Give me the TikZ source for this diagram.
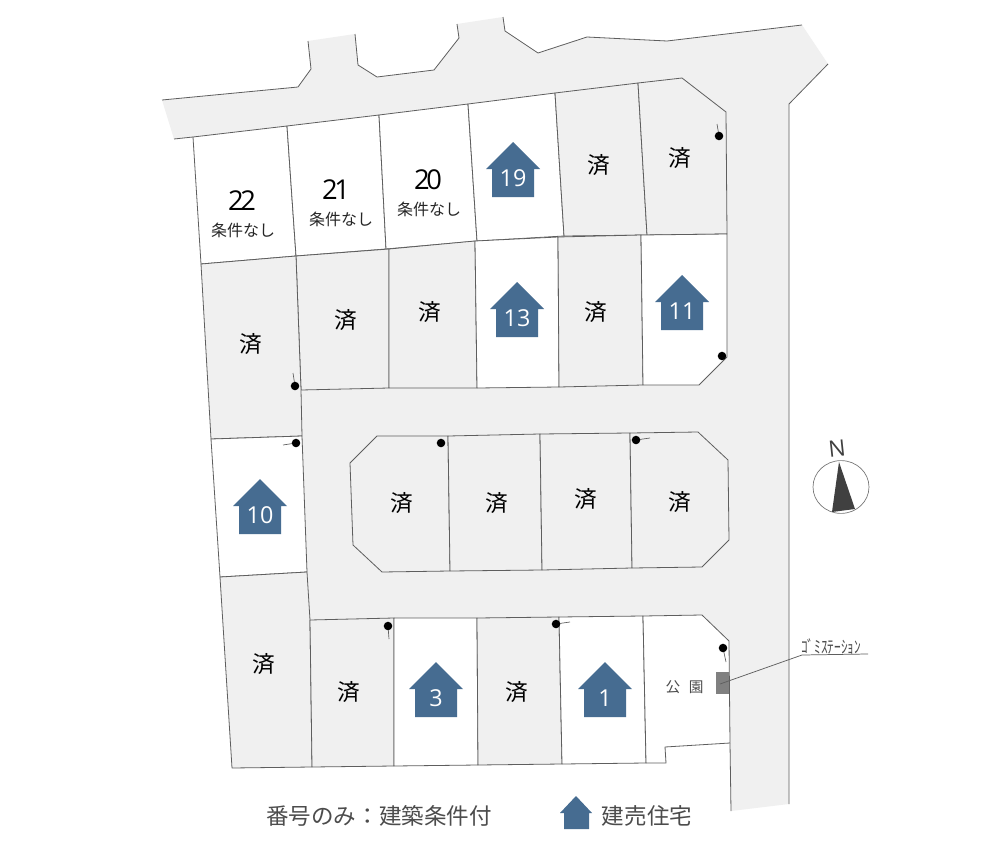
\documentclass[tikz,border=0pt]{standalone}
\usepackage{fontspec}
\setmainfont{Noto Sans CJK JP}
\newfontfamily\numfont{Open Sans}
\newfontfamily\tightnum[LetterSpace=-12]{Open Sans}
\definecolor{plotgrey}{HTML}{F0F0F0}
\definecolor{linegrey}{HTML}{5E5E5E}
\definecolor{houseblue}{HTML}{466C91}
\newcommand{\fs}[1]{\fontsize{#1}{#1}\selectfont}
\tikzset{
  soldlot/.style={fill=plotgrey,draw=linegrey,line width=0.6pt,line join=round},
  openlot/.style={fill=white,draw=linegrey,line width=0.6pt,line join=round},
  edge line/.style={draw=linegrey,line width=0.6pt,line join=round},
  sold/.style={inner sep=0pt,text=black,font=\fs{17}},
  nocond/.style={inner sep=0pt,text=black!85,font=\fs{12}},
  lotnum/.style={inner sep=0pt,text=black,font=\tightnum\fs{20.5}},
  housenum/.style={inner sep=0pt,text=white,font=\numfont\fs{17.5}},
  legendtext/.style={inner sep=0pt,text=black!70,font=\fs{16.9}},
  pin/.style={fill=black,draw=none},
  pintick/.style={draw=linegrey,line width=0.5pt}
}
\newcommand{\housemark}[3]{%
  \fill[houseblue] (#1,#2) -- ++(27,27) -- ++(-6,0) -- ++(0,28) -- ++(-42,0) -- ++(0,-28) -- ++(-6,0) -- cycle;
  \node[housenum] (h#3) at (#1,#2+36) {#3};
}
\newcommand{\pinmark}[4]{%
  \draw[pintick] (#1,#2) -- (#3,#4);
  \fill[pin] (#1,#2) circle (3.2pt);
}
\begin{document}
\begin{tikzpicture}[x=0.75pt,y=-0.75pt]
\useasboundingbox (0,0) rectangle (1000,853);
\fill[white] (0,0) rectangle (1000,853);
% road surface
\fill[plotgrey] (162,100) -- (298,87) -- (311,69) -- (308,41) -- (355,34) -- (358,65) -- (377,77) -- (434,70) -- (459,38) -- (457,24) -- (503,17) -- (505,31) -- (538,53) -- (587,37) -- (667,41) -- (802,25) -- (828,64) -- (789,104) -- (789,804) -- (731,811) -- (730,743) -- (300,700) -- (232,700) -- (193,137) -- (174,139) -- cycle;
\draw[edge line] (162,100) -- (298,87) -- (311,69) -- (308,41);
\draw[edge line] (355,34) -- (358,65) -- (377,77) -- (434,70) -- (459,38) -- (457,24);
\draw[edge line] (503,17) -- (505,31) -- (538,53) -- (587,37) -- (667,41) -- (802,25);
\draw[edge line] (828,64) -- (789,104) -- (789,804);
\draw[edge line] (174,139) -- (193,137);
\draw[edge line] (730,743) -- (731,811);
% north row
\draw[openlot] (193,137) -- (287,126) -- (296,256) -- (201,264) -- cycle;
\draw[openlot] (287,126) -- (379,115) -- (386,249) -- (296,256) -- cycle;
\draw[openlot] (379,115) -- (468,104) -- (477,241) -- (386,249) -- cycle;
\draw[openlot] (468,104) -- (555,93) -- (564,236) -- (477,241) -- cycle;
\draw[soldlot] (555,93) -- (638,83) -- (647,235) -- (564,236) -- cycle;
\draw[soldlot] (638,83) -- (682,78) -- (726,112) -- (727,234) -- (647,235) -- cycle;
% second row
\draw[soldlot] (296,256) -- (389,249) -- (389,388) -- (301,390) -- cycle;
\draw[soldlot] (389,249) -- (475,241) -- (477,388) -- (389,388) -- cycle;
\draw[openlot] (475,241) -- (558,237) -- (559,387) -- (477,388) -- cycle;
\draw[soldlot] (558,237) -- (641,235) -- (643,385) -- (559,387) -- cycle;
\draw[openlot] (641,235) -- (727,234) -- (727,357) -- (699,385) -- (643,385) -- cycle;
% west column
\draw[soldlot] (201,264) -- (296,256) -- (301,390) -- (302,436) -- (211,439) -- cycle;
\draw[openlot] (211,439) -- (302,436) -- (307,572) -- (220,577) -- cycle;
\draw[soldlot] (220,577) -- (307,572) -- (310,620) -- (312,767) -- (232,768) -- cycle;
% central block
\draw[soldlot] (377,436) -- (448,436) -- (450,571) -- (382,572) -- (353,545) -- (350,463) -- cycle;
\draw[soldlot] (448,436) -- (540,434) -- (542,570) -- (450,571) -- cycle;
\draw[soldlot] (540,434) -- (630,433) -- (632,568) -- (542,570) -- cycle;
\draw[soldlot] (630,433) -- (698,432) -- (728,460) -- (729,540) -- (702,567) -- (632,568) -- cycle;
% south row
\draw[soldlot] (310,620) -- (394,618) -- (394,766) -- (312,767) -- cycle;
\draw[openlot] (394,618) -- (477,618) -- (478,765) -- (394,766) -- cycle;
\draw[soldlot] (477,618) -- (559,617) -- (562,764) -- (478,765) -- cycle;
\draw[openlot] (559,617) -- (643,616) -- (646,763) -- (562,764) -- cycle;
\draw[openlot] (643,616) -- (702,615) -- (729,641) -- (730,743) -- (665,747) -- (666,763) -- (646,763) -- cycle;
% sold labels
\node[sold] (s1) at (680,158) {済};
\node[sold] (s2) at (599,165) {済};
\node[sold] (s3) at (346,320) {済};
\node[sold] (s4) at (430,312) {済};
\node[sold] (s5) at (596,312) {済};
\node[sold] (s6) at (251,344) {済};
\node[sold] (s7) at (402,503) {済};
\node[sold] (s8) at (497,503) {済};
\node[sold] (s9) at (586,499) {済};
\node[sold] (s10) at (680,502) {済};
\node[sold] (s11) at (264,664) {済};
\node[sold] (s12) at (349,692) {済};
\node[sold] (s13) at (517,692) {済};
% unconditional lots
\node[lotnum] (n22) at (242,201) {22};
\node[lotnum] (n21) at (336,190) {21};
\node[lotnum] (n20) at (428,180) {20};
\node[nocond] (c22) at (243,230) {条件なし};
\node[nocond] (c21) at (341,219) {条件なし};
\node[nocond] (c20) at (429,209) {条件なし};
% houses
\housemark{513}{142}{19}
\housemark{517}{282}{13}
\housemark{682}{275}{11}
\housemark{260}{479}{10}
\housemark{436}{662}{3}
\housemark{605}{662}{1}
% corner pins
\pinmark{719}{136}{717}{124}
\pinmark{722}{356}{722}{356}
\pinmark{295}{386}{293}{373}
\pinmark{296}{443}{283}{445}
\pinmark{441}{443}{441}{443}
\pinmark{636}{440}{650}{438}
\pinmark{723}{648}{726}{662}
\pinmark{388}{626}{389}{639}
\pinmark{556}{624}{570}{622}
% park
\node[inner sep=0pt,text=black!70,font=\fs{11}] (park) at (684.5,687) {公\hspace{6.5pt}園};
\fill[black!50] (716,672) rectangle (729,694);
\coordinate (binin) at (720,684);
\coordinate (binbend) at (802,655);
\coordinate (binend) at (868,654);
\draw[draw=linegrey,line width=0.55pt] (binin) -- (binbend) -- (binend);
\node[inner sep=0pt,text=black!70,font=\fs{10},yscale=1.3] (bin) at (831,647) {ｺﾞﾐｽﾃｰｼｮﾝ};
% compass
\draw[draw=black!55,line width=0.5pt] (841,487) ellipse [x radius=21pt,y radius=19.8pt];
\fill[black!75] (839,462) -- (855,509) -- (832,512) -- cycle;
\node[inner sep=0pt,text=black!75,rotate=6,font=\numfont\fs{17}] (north) at (837,449) {N};
% legend
\node[legendtext] (lg1) at (379,816) {番号のみ：建築条件付};
\fill[houseblue] (576,796) -- (592,813) -- (589,813) -- (589,829) -- (564,829) -- (564,813) -- (560,813) -- cycle;
\node[legendtext] (lg2) at (647,816) {建売住宅};
\end{tikzpicture}
\end{document}
